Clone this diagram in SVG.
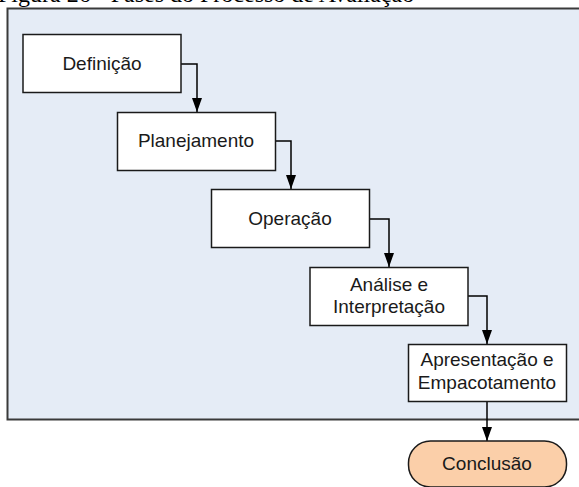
<svg xmlns="http://www.w3.org/2000/svg" width="579" height="487" viewBox="0 0 579 487">
  <defs>
    <marker id="arrow" markerUnits="userSpaceOnUse" markerWidth="14" markerHeight="10" refX="14" refY="5" orient="auto" viewBox="0 0 14 10">
      <path d="M0,0 L14,5 L0,10 Z" fill="#000"/>
    </marker>
    <style>
      .step { fill: #ffffff; stroke: #1a1a1a; stroke-width: 1.5; }
      .end { fill: #fbcfa9; stroke: #1a1a1a; stroke-width: 1.5; }
      .label { font-family: "Liberation Sans", Arial, sans-serif; font-size: 19px; fill: #1a1a1a; text-anchor: middle; }
      .flow { fill: none; stroke: #000; stroke-width: 1.5; }
      .caption { font-family: "Liberation Serif", "Times New Roman", serif; font-size: 24px; fill: #000; }
    </style>
  </defs>

  <rect width="579" height="487" fill="#ffffff"/>

  <!-- caption, mostly above the top edge -->
  <text class="caption" x="-2" y="2">Figura 26 - Fases do Processo de Avaliação</text>

  <!-- process frame -->
  <rect id="frame" x="7.5" y="8.5" width="600" height="411" fill="#e5ecf6" stroke="#3a3a3a" stroke-width="2"/>

  <g id="connectors">
    <path class="flow" d="M181,64 H197 V112" marker-end="url(#arrow)"/>
    <path class="flow" d="M275,141 H291 V189" marker-end="url(#arrow)"/>
    <path class="flow" d="M369,219 H389 V267" marker-end="url(#arrow)"/>
    <path class="flow" d="M468,296 H487 V344" marker-end="url(#arrow)"/>
    <path class="flow" d="M487,402 V441" marker-end="url(#arrow)"/>
  </g>

  <g id="definicao">
    <rect class="step" x="23" y="34.5" width="158" height="58"/>
    <text class="label" x="102" y="70">Definição</text>
  </g>

  <g id="planejamento">
    <rect class="step" x="117.5" y="112.5" width="158" height="58"/>
    <text class="label" x="196" y="147">Planejamento</text>
  </g>

  <g id="operacao">
    <rect class="step" x="211.5" y="189.5" width="158" height="58"/>
    <text class="label" x="290" y="224.5">Operação</text>
  </g>

  <g id="analise">
    <rect class="step" x="310" y="267.5" width="158" height="58"/>
    <text class="label" x="389" y="291">Análise e</text>
    <text class="label" x="389" y="313">Interpretação</text>
  </g>

  <g id="apresentacao">
    <rect class="step" x="408.5" y="344.5" width="158" height="57"/>
    <text class="label" x="487" y="366">Apresentação e</text>
    <text class="label" x="487" y="389">Empacotamento</text>
  </g>

  <g id="conclusao">
    <rect class="end" x="408.5" y="441" width="158" height="46" rx="22" ry="22"/>
    <text class="label" x="487" y="470">Conclusão</text>
  </g>
</svg>
